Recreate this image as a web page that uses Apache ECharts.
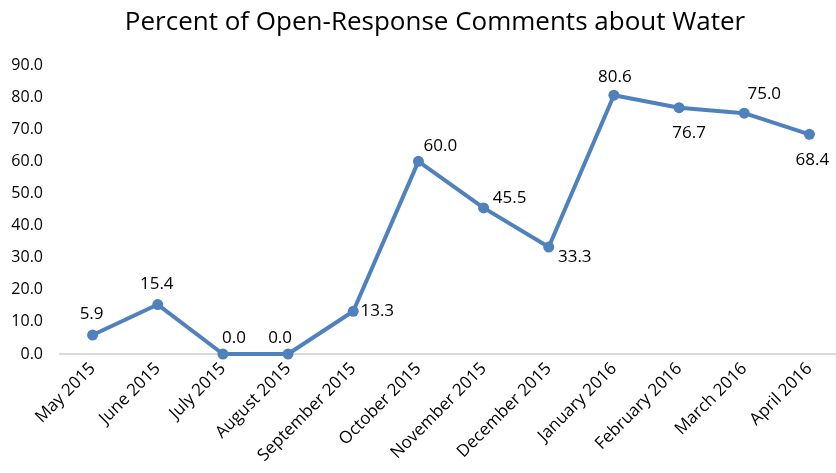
<!DOCTYPE html>
<html><head><meta charset="utf-8">
<script src="https://cdn.jsdelivr.net/npm/echarts@6/dist/echarts.min.js"></script>
<style>html,body{margin:0;padding:0;background:#fff}#c{width:836px;height:473px}</style>
</head><body><div id="c"></div>
<script>
const categories = ['May 2015','June 2015','July 2015','August 2015','September 2015','October 2015','November 2015','December 2015','January 2016','February 2016','March 2016','April 2016'];
const values = [5.9, 15.4, 0.0, 0.0, 13.3, 60.0, 45.5, 33.3, 80.6, 76.7, 75.0, 68.4];
const labelOffsets = [[-1,-21],[-1,-20],[11,-16],[-8,-16],[24,0],[22,-15],[26,-10],[26,10],[1,-18],[10,25],[20,-19],[3,26]];

const data = values.map((v,i)=>({
  value: v,
  label: { position: 'inside', offset: labelOffsets[i] }
}));

const chart = echarts.init(document.getElementById('c'));
chart.setOption({
  animation: false,
  title: {
    text: 'Percent of Open-Response Comments about Water',
    left: 430, top: 5, textAlign: 'center',
    textStyle: { fontFamily: 'Open Sans', fontSize: 26, fontWeight: 'normal', color: '#000' }
  },
  grid: { left: 60, top: 65, width: 782, height: 289, containLabel: false, outerBoundsMode: 'none' },
  xAxis: {
    type: 'category', data: categories, boundaryGap: true,
    axisLine: { lineStyle: { color: '#D9D9D9', width: 2 } },
    axisTick: { show: false },
    axisLabel: { rotate: 45, interval: 0, margin: 12, fontFamily: 'Open Sans', fontSize: 17, color: '#000' }
  },
  yAxis: {
    type: 'value', min: 0, max: 90, interval: 10,
    axisLine: { show: false }, axisTick: { show: false },
    splitLine: { show: false },
    axisLabel: { margin: 17, fontFamily: 'Open Sans', fontSize: 16, color: '#000' , formatter: v => v.toFixed(1) }
  },
  series: [{
    type: 'line', data: data,
    lineStyle: { color: '#4F81BD', width: 4 },
    itemStyle: { color: '#4F81BD' },
    symbol: 'circle', symbolSize: 11,
    label: { show: true, fontFamily: 'Open Sans', fontSize: 17, color: '#000', formatter: p => p.value.toFixed(1) }
  }]
});
</script></body></html>
